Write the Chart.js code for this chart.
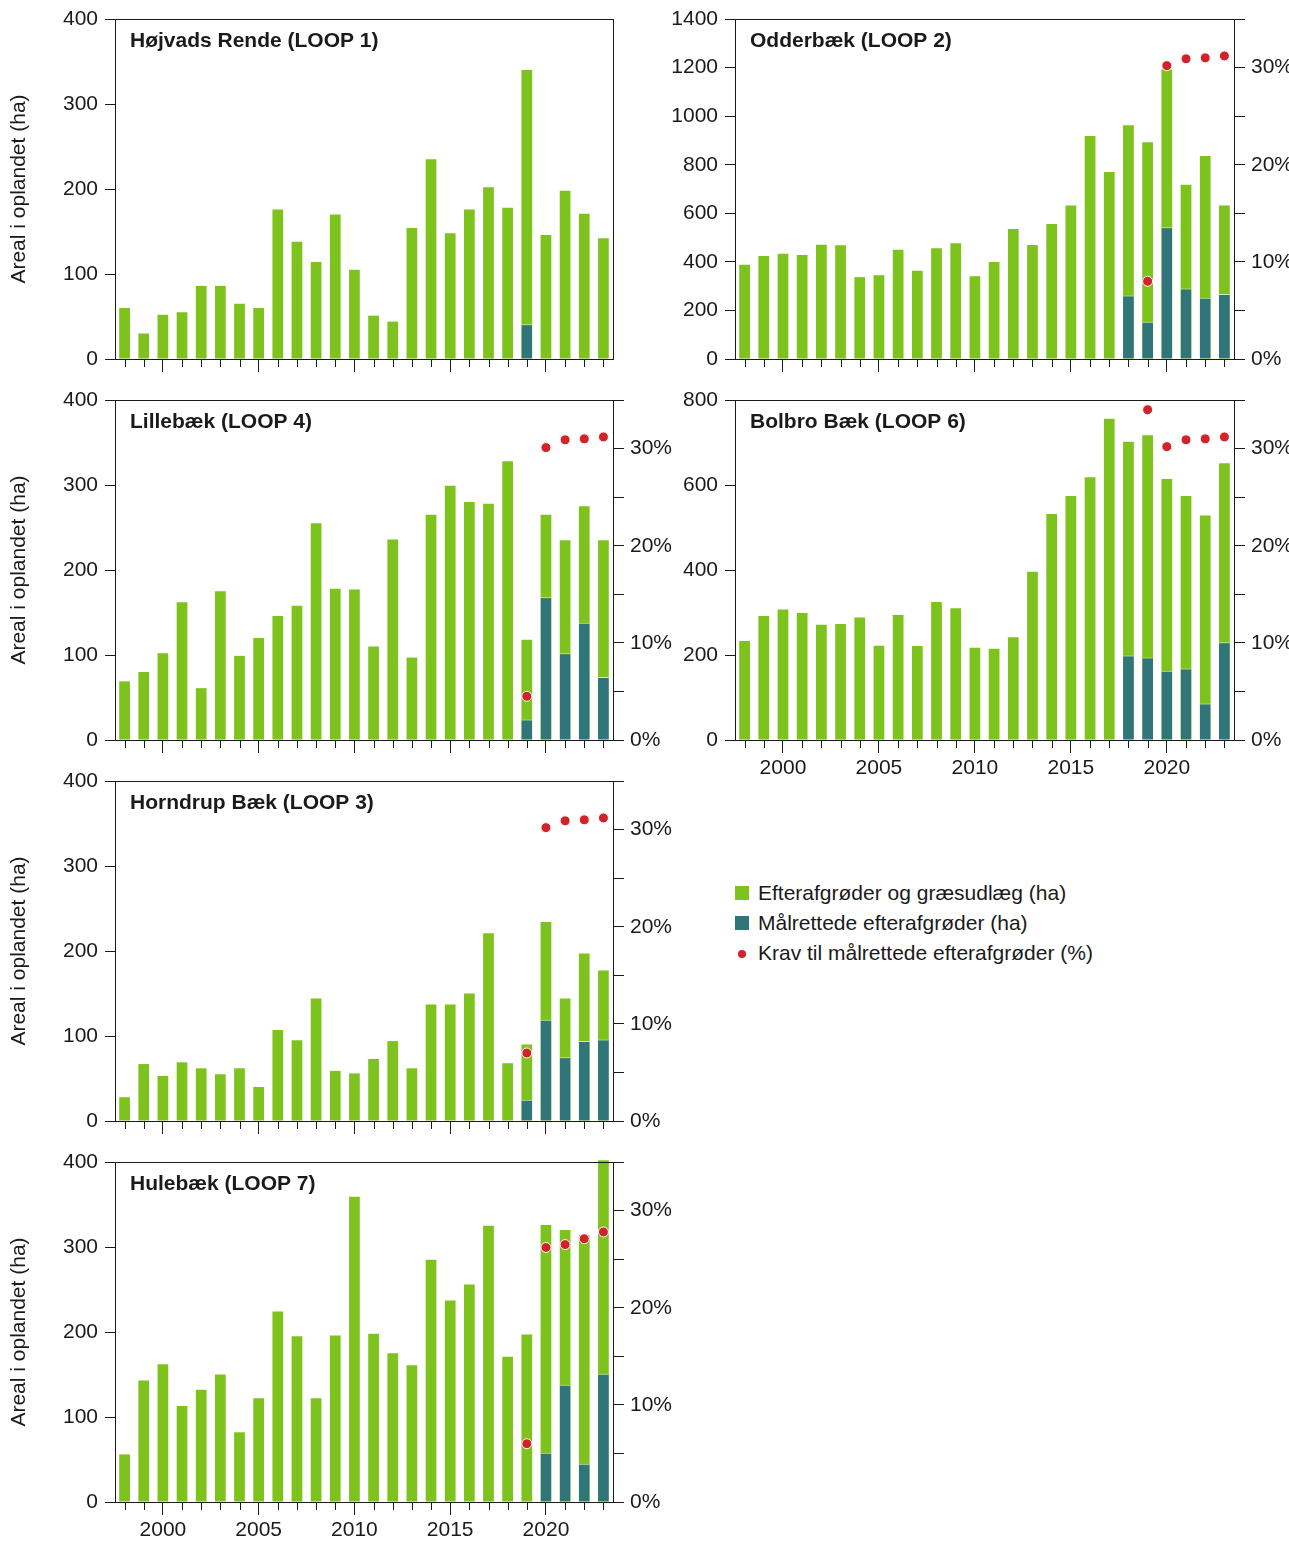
<!DOCTYPE html>
<html>
<head>
<meta charset="utf-8">
<script src="https://cdn.jsdelivr.net/npm/chart.js@4.4.1/dist/chart.umd.min.js"></script>
<style>
html, body { margin:0; padding:0; background:#fff; width:1289px; height:1542px; overflow:hidden; }
canvas { position:absolute; }
#legend { position:absolute; left:735px; top:878px; font:21px "Liberation Sans", Arial, sans-serif; color:#1a1a1a; }
.row { height:30px; line-height:30px; position:relative; padding-left:23px; white-space:nowrap; }
.sq { position:absolute; left:0; top:8px; width:14px; height:14px; }
.dot { position:absolute; left:3px; top:12px; width:8px; height:8px; border-radius:50%; background:#d2232a; }
</style>
</head>
<body>
<canvas id="c1" width="700" height="410" style="left:0;top:-1px"></canvas>
<canvas id="c2" width="720" height="410" style="left:620px;top:-1px"></canvas>
<canvas id="c4" width="700" height="410" style="left:0;top:380px"></canvas>
<canvas id="c6" width="720" height="410" style="left:620px;top:380px"></canvas>
<canvas id="c3" width="700" height="410" style="left:0;top:761px"></canvas>
<canvas id="c7" width="700" height="410" style="left:0;top:1142px"></canvas>
<div id="legend">
  <div class="row"><span class="sq" style="background:#7ec21e"></span>Efterafgrøder og græsudlæg (ha)</div>
  <div class="row"><span class="sq" style="background:#2f7579"></span>Målrettede efterafgrøder (ha)</div>
  <div class="row"><span class="dot"></span>Krav til målrettede efterafgrøder (%)</div>
</div>
<script>
var years = [1998,1999,2000,2001,2002,2003,2004,2005,2006,2007,2008,2009,2010,2011,2012,2013,2014,2015,2016,2017,2018,2019,2020,2021,2022,2023];

// Højvads Rende (LOOP 1)
var hojvadsTotal = [60,30,52,55,86,86,65,60,176,138,114,170,105,51,44,154,235,148,176,202,178,340,146,198,171,142];
var hojvadsTarget = [null,null,null,null,null,null,null,null,null,null,null,null,null,null,null,null,null,null,null,null,null,41,null,null,null,null];
var hojvadsKrav = [];

// Odderbæk (LOOP 2)
var odderTotal = [388,424,433,428,470,468,337,345,450,363,456,477,341,399,535,469,556,632,918,770,962,892,1192,718,836,632];
var odderTarget = [null,null,null,null,null,null,null,null,null,null,null,null,null,null,null,null,null,null,null,null,261,153,543,290,252,268];
var odderKrav = [null,null,null,null,null,null,null,null,null,null,null,null,null,null,null,null,null,null,null,null,null,8.0,30.2,30.9,31.0,31.2];

// Lillebæk (LOOP 4)
var lilleTotal = [69,80,102,162,61,175,99,120,146,158,255,178,177,110,236,97,265,299,280,278,328,118,265,235,275,235];
var lilleTarget = [null,null,null,null,null,null,null,null,null,null,null,null,null,null,null,null,null,null,null,null,null,24,168,102,138,74];
var lilleKrav = [null,null,null,null,null,null,null,null,null,null,null,null,null,null,null,null,null,null,null,null,null,4.5,30.1,30.9,31.0,31.2];

// Bolbro Bæk (LOOP 6)
var bolbroTotal = [233,292,307,299,271,273,288,222,294,221,325,310,217,215,242,396,532,574,618,756,702,717,614,574,528,651];
var bolbroTarget = [null,null,null,null,null,null,null,null,null,null,null,null,null,null,null,null,null,null,null,null,199,194,163,168,86,230];
var bolbroKrav = [null,null,null,null,null,null,null,null,null,null,null,null,null,null,null,null,null,null,null,null,null,34.0,30.2,30.9,31.0,31.2];

// Horndrup Bæk (LOOP 3)
var horndrupTotal = [28,67,53,69,62,55,62,40,107,95,144,59,56,73,94,62,137,137,150,221,68,90,234,144,197,177];
var horndrupTarget = [null,null,null,null,null,null,null,null,null,null,null,null,null,null,null,null,null,null,null,null,null,25,119,75,94,96];
var horndrupKrav = [null,null,null,null,null,null,null,null,null,null,null,null,null,null,null,null,null,null,null,null,null,7.0,30.2,30.9,31.0,31.2];

// Hulebæk (LOOP 7)
var huleTotal = [56,143,162,113,132,150,82,122,224,195,122,196,359,198,175,161,285,237,256,325,171,197,326,320,314,402];
var huleTarget = [null,null,null,null,null,null,null,null,null,null,null,null,null,null,null,null,null,null,null,null,null,null,58,138,45,151];
var huleKrav = [null,null,null,null,null,null,null,null,null,null,null,null,null,null,null,null,null,null,null,null,null,6.0,26.2,26.5,27.1,27.8];

var green = '#7ec21e', teal = '#2f7579', red = '#d2232a', ink = '#1a1a1a';
var fam = '"Liberation Sans", Arial, sans-serif';
var font = { family: fam, size: 21 };

// titel, topstreg og korte årstikker
var panelPlugin = {
	id: 'panel',
	afterDraw: function(chart) {
		var ctx = chart.ctx, a = chart.chartArea, o = chart.options.plugins.panel;
		ctx.save();
		ctx.strokeStyle = ink;
		ctx.lineWidth = 1;
		ctx.beginPath();
		ctx.moveTo(a.left, a.top + 0.5);
		ctx.lineTo(a.right, a.top + 0.5);
		var xs = chart.scales.x;
		for (var i = 0; i < years.length; i++) {
			if (years[i] % 5 === 0) continue;
			var px = Math.round(xs.getPixelForTick(i)) + 0.5;
			ctx.moveTo(px, a.bottom);
			ctx.lineTo(px, a.bottom + 8);
		}
		ctx.stroke();
		ctx.fillStyle = ink;
		ctx.font = 'bold 21px ' + fam;
		ctx.textBaseline = 'middle';
		ctx.fillText(o.title, a.left + 15, a.top + 22);
		ctx.restore();
	}
};

function makePanel(id, title, total, target, krav, yMax, yStep, opts) {
	var rightWidth = opts.rightWidth;
	new Chart(document.getElementById(id), {
		type: 'bar',
		data: {
			labels: years,
			datasets: [{
				type: 'line',
				label: 'Krav til målrettede efterafgrøder (%)',
				data: krav,
				yAxisID: 'y1',
				showLine: false,
				pointRadius: 5,
				pointBackgroundColor: red,
				pointBorderColor: '#fff',
				pointBorderWidth: 1,
				order: 0,
				clip: false
			}, {
				label: 'Målrettede efterafgrøder (ha)',
				data: target,
				backgroundColor: teal,
				borderColor: 'rgba(255,255,255,0.7)',
				borderWidth: { top: 1, left: 0, right: 0, bottom: 0 },
				grouped: false,
				barPercentage: 0.56,
				categoryPercentage: 1,
				order: 1
			}, {
				label: 'Efterafgrøder og græsudlæg (ha)',
				data: total,
				backgroundColor: green,
				grouped: false,
				barPercentage: 0.56,
				categoryPercentage: 1,
				order: 2,
				clip: false
			}]
		},
		options: {
			responsive: false,
			animation: false,
			devicePixelRatio: 1,
			layout: { padding: { top: 20, left: 0, right: 0, bottom: 0 } },
			plugins: {
				legend: { display: false },
				tooltip: { enabled: false },
				panel: { title: title }
			},
			scales: {
				x: {
					offset: true,
					grid: {
						offset: false,
						drawOnChartArea: false,
						tickLength: 13,
						tickColor: function(c) {
							return (c.tick && years[c.index] % 5 === 0) ? ink : 'rgba(0,0,0,0)';
						}
					},
					border: { color: ink },
					ticks: {
						autoSkip: false,
						maxRotation: 0,
						padding: 3,
						font: font,
						color: ink,
						callback: function(v, i) {
							return (opts.showYears && years[i] % 5 === 0) ? String(years[i]) : '';
						}
					},
					afterFit: function(s) { s.height = 50; }
				},
				y: {
					min: 0,
					max: yMax,
					ticks: {
						stepSize: yStep, padding: 7, font: font, color: ink,
						callback: function(v) { return String(v); }
					},
					grid: { drawOnChartArea: false, tickLength: 10, tickColor: ink },
					border: { color: ink },
					title: {
						display: opts.showYTitle,
						text: 'Areal i oplandet (ha)',
						font: { family: fam, size: 21 },
						color: ink,
						padding: { top: 7, bottom: 0 }
					},
					afterFit: function(s) { s.width = 115; }
				},
				y1: {
					position: 'right',
					min: 0,
					max: 35,
					ticks: {
						display: opts.showPct,
						stepSize: 5,
						padding: 6,
						font: font,
						color: ink,
						callback: function(v) { return v % 10 === 0 ? v + '%' : ''; }
					},
					grid: { drawOnChartArea: false, drawTicks: opts.showPct, tickLength: 11, tickColor: ink },
					border: { color: ink },
					afterFit: function(s) { s.width = rightWidth; }
				}
			}
		},
		plugins: [panelPlugin]
	});
}

makePanel('c1', 'Højvads Rende (LOOP 1)', hojvadsTotal, hojvadsTarget, hojvadsKrav, 400, 100,
	{ showPct: false, showYears: false, showYTitle: true, rightWidth: 87 });
makePanel('c2', 'Odderbæk (LOOP 2)', odderTotal, odderTarget, odderKrav, 1400, 200,
	{ showPct: true, showYears: false, showYTitle: false, rightWidth: 106 });
makePanel('c4', 'Lillebæk (LOOP 4)', lilleTotal, lilleTarget, lilleKrav, 400, 100,
	{ showPct: true, showYears: false, showYTitle: true, rightWidth: 87 });
makePanel('c6', 'Bolbro Bæk (LOOP 6)', bolbroTotal, bolbroTarget, bolbroKrav, 800, 200,
	{ showPct: true, showYears: true, showYTitle: false, rightWidth: 106 });
makePanel('c3', 'Horndrup Bæk (LOOP 3)', horndrupTotal, horndrupTarget, horndrupKrav, 400, 100,
	{ showPct: true, showYears: false, showYTitle: true, rightWidth: 87 });
makePanel('c7', 'Hulebæk (LOOP 7)', huleTotal, huleTarget, huleKrav, 400, 100,
	{ showPct: true, showYears: true, showYTitle: true, rightWidth: 87 });
</script>
</body>
</html>
